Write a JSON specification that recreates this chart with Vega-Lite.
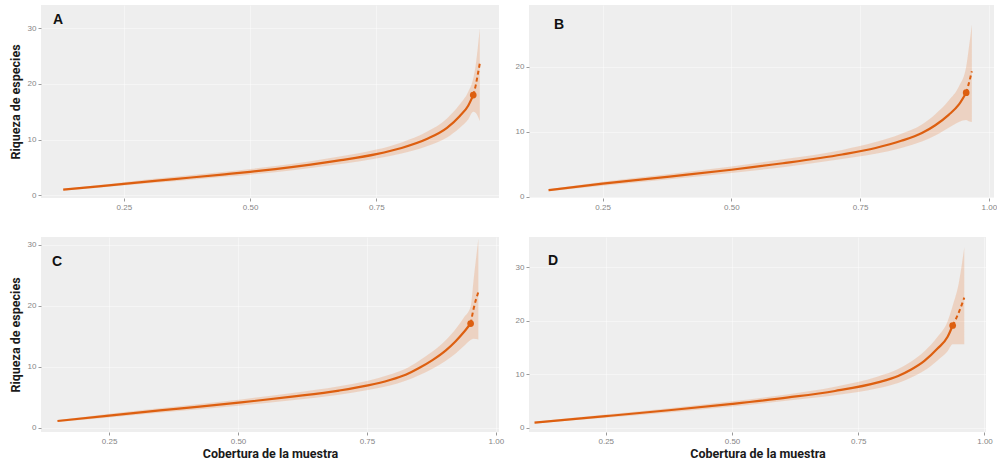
{
  "$schema": "https://vega.github.io/schema/vega-lite/v6.json",
  "background": "white",
  "padding": {"left": 9, "top": 5, "right": 0, "bottom": 0},
  "config": {
    "view": {"fill": "#eeeeee", "stroke": null},
    "axis": {"domain": false, "grid": true, "gridColor": "#ffffff", "gridWidth": 1, "gridOpacity": 0.4, "labelFont": "Liberation Sans", "labelFontSize": 8, "labelColor": "#858585", "tickColor": "#9a9a9a", "tickSize": 3, "labelPadding": 2, "titleFont": "Roboto", "titleFontSize": 12.5, "titleFontWeight": "bold", "titleColor": "#1a1a1a"},
    "title": {"font": "Liberation Sans", "fontSize": 14, "fontWeight": "bold", "color": "#111111", "anchor": "start", "frame": "group"}
  },
  "data": {"values": [
    {"panel": "A", "tipo": "rarefaccion", "cobertura": 0.13, "riqueza": 1.0, "inf": 0.85, "sup": 1.15},
    {"panel": "A", "tipo": "rarefaccion", "cobertura": 0.20, "riqueza": 1.6, "inf": 1.35, "sup": 1.85},
    {"panel": "A", "tipo": "rarefaccion", "cobertura": 0.25, "riqueza": 2.05, "inf": 1.75, "sup": 2.35},
    {"panel": "A", "tipo": "rarefaccion", "cobertura": 0.35, "riqueza": 2.9, "inf": 2.5, "sup": 3.3},
    {"panel": "A", "tipo": "rarefaccion", "cobertura": 0.45, "riqueza": 3.75, "inf": 3.3, "sup": 4.2},
    {"panel": "A", "tipo": "rarefaccion", "cobertura": 0.50, "riqueza": 4.2, "inf": 3.7, "sup": 4.7},
    {"panel": "A", "tipo": "rarefaccion", "cobertura": 0.55, "riqueza": 4.7, "inf": 4.15, "sup": 5.25},
    {"panel": "A", "tipo": "rarefaccion", "cobertura": 0.62, "riqueza": 5.5, "inf": 4.9, "sup": 6.1},
    {"panel": "A", "tipo": "rarefaccion", "cobertura": 0.68, "riqueza": 6.3, "inf": 5.6, "sup": 7.0},
    {"panel": "A", "tipo": "rarefaccion", "cobertura": 0.75, "riqueza": 7.4, "inf": 6.6, "sup": 8.2},
    {"panel": "A", "tipo": "rarefaccion", "cobertura": 0.80, "riqueza": 8.5, "inf": 7.5, "sup": 9.5},
    {"panel": "A", "tipo": "rarefaccion", "cobertura": 0.85, "riqueza": 10.1, "inf": 8.8, "sup": 11.4},
    {"panel": "A", "tipo": "rarefaccion", "cobertura": 0.89, "riqueza": 12.1, "inf": 10.4, "sup": 13.8},
    {"panel": "A", "tipo": "rarefaccion", "cobertura": 0.915, "riqueza": 14.2, "inf": 12.1, "sup": 16.3},
    {"panel": "A", "tipo": "rarefaccion", "cobertura": 0.932, "riqueza": 16.1, "inf": 13.6, "sup": 18.6},
    {"panel": "A", "tipo": "rarefaccion", "cobertura": 0.942, "riqueza": 18.0, "inf": 15.0, "sup": 21.0},
    {"panel": "A", "tipo": "extrapolacion", "cobertura": 0.942, "riqueza": 18.0, "inf": 15.0, "sup": 21.0},
    {"panel": "A", "tipo": "extrapolacion", "cobertura": 0.947, "riqueza": 19.8, "inf": 14.8, "sup": 23.5},
    {"panel": "A", "tipo": "extrapolacion", "cobertura": 0.951, "riqueza": 21.7, "inf": 14.2, "sup": 26.5},
    {"panel": "A", "tipo": "extrapolacion", "cobertura": 0.955, "riqueza": 23.7, "inf": 13.3, "sup": 30.0},
    {"panel": "A", "tipo": "observado", "cobertura": 0.942, "riqueza": 18.0, "inf": 15.0, "sup": 21.0},

    {"panel": "B", "tipo": "rarefaccion", "cobertura": 0.145, "riqueza": 1.0, "inf": 0.85, "sup": 1.15},
    {"panel": "B", "tipo": "rarefaccion", "cobertura": 0.25, "riqueza": 2.0, "inf": 1.7, "sup": 2.3},
    {"panel": "B", "tipo": "rarefaccion", "cobertura": 0.38, "riqueza": 3.1, "inf": 2.7, "sup": 3.5},
    {"panel": "B", "tipo": "rarefaccion", "cobertura": 0.50, "riqueza": 4.15, "inf": 3.65, "sup": 4.65},
    {"panel": "B", "tipo": "rarefaccion", "cobertura": 0.60, "riqueza": 5.15, "inf": 4.55, "sup": 5.75},
    {"panel": "B", "tipo": "rarefaccion", "cobertura": 0.715, "riqueza": 6.5, "inf": 5.8, "sup": 7.2},
    {"panel": "B", "tipo": "rarefaccion", "cobertura": 0.78, "riqueza": 7.5, "inf": 6.6, "sup": 8.4},
    {"panel": "B", "tipo": "rarefaccion", "cobertura": 0.83, "riqueza": 8.6, "inf": 7.5, "sup": 9.7},
    {"panel": "B", "tipo": "rarefaccion", "cobertura": 0.87, "riqueza": 9.8, "inf": 8.5, "sup": 11.1},
    {"panel": "B", "tipo": "rarefaccion", "cobertura": 0.896, "riqueza": 11.0, "inf": 9.4, "sup": 12.7},
    {"panel": "B", "tipo": "rarefaccion", "cobertura": 0.922, "riqueza": 12.6, "inf": 10.6, "sup": 14.8},
    {"panel": "B", "tipo": "rarefaccion", "cobertura": 0.942, "riqueza": 14.2, "inf": 11.5, "sup": 17.0},
    {"panel": "B", "tipo": "rarefaccion", "cobertura": 0.956, "riqueza": 16.0, "inf": 11.8, "sup": 20.0},
    {"panel": "B", "tipo": "extrapolacion", "cobertura": 0.956, "riqueza": 16.0, "inf": 11.8, "sup": 20.0},
    {"panel": "B", "tipo": "extrapolacion", "cobertura": 0.961, "riqueza": 17.4, "inf": 11.6, "sup": 22.8},
    {"panel": "B", "tipo": "extrapolacion", "cobertura": 0.967, "riqueza": 19.3, "inf": 11.5, "sup": 26.5},
    {"panel": "B", "tipo": "observado", "cobertura": 0.956, "riqueza": 16.0, "inf": 11.8, "sup": 20.0},

    {"panel": "C", "tipo": "rarefaccion", "cobertura": 0.15, "riqueza": 1.1, "inf": 0.95, "sup": 1.25},
    {"panel": "C", "tipo": "rarefaccion", "cobertura": 0.25, "riqueza": 2.0, "inf": 1.7, "sup": 2.3},
    {"panel": "C", "tipo": "rarefaccion", "cobertura": 0.38, "riqueza": 3.1, "inf": 2.7, "sup": 3.5},
    {"panel": "C", "tipo": "rarefaccion", "cobertura": 0.506, "riqueza": 4.15, "inf": 3.65, "sup": 4.65},
    {"panel": "C", "tipo": "rarefaccion", "cobertura": 0.605, "riqueza": 5.1, "inf": 4.5, "sup": 5.7},
    {"panel": "C", "tipo": "rarefaccion", "cobertura": 0.696, "riqueza": 6.1, "inf": 5.4, "sup": 6.8},
    {"panel": "C", "tipo": "rarefaccion", "cobertura": 0.752, "riqueza": 6.95, "inf": 6.2, "sup": 7.7},
    {"panel": "C", "tipo": "rarefaccion", "cobertura": 0.793, "riqueza": 7.8, "inf": 6.9, "sup": 8.7},
    {"panel": "C", "tipo": "rarefaccion", "cobertura": 0.825, "riqueza": 8.7, "inf": 7.7, "sup": 9.7},
    {"panel": "C", "tipo": "rarefaccion", "cobertura": 0.851, "riqueza": 9.8, "inf": 8.6, "sup": 11.0},
    {"panel": "C", "tipo": "rarefaccion", "cobertura": 0.877, "riqueza": 11.1, "inf": 9.7, "sup": 12.5},
    {"panel": "C", "tipo": "rarefaccion", "cobertura": 0.903, "riqueza": 12.7, "inf": 11.0, "sup": 14.4},
    {"panel": "C", "tipo": "rarefaccion", "cobertura": 0.922, "riqueza": 14.2, "inf": 12.2, "sup": 16.2},
    {"panel": "C", "tipo": "rarefaccion", "cobertura": 0.938, "riqueza": 15.7, "inf": 13.4, "sup": 18.1},
    {"panel": "C", "tipo": "rarefaccion", "cobertura": 0.951, "riqueza": 17.1, "inf": 14.4, "sup": 19.9},
    {"panel": "C", "tipo": "extrapolacion", "cobertura": 0.951, "riqueza": 17.1, "inf": 14.4, "sup": 19.9},
    {"panel": "C", "tipo": "extrapolacion", "cobertura": 0.957, "riqueza": 19.6, "inf": 14.6, "sup": 24.5},
    {"panel": "C", "tipo": "extrapolacion", "cobertura": 0.966, "riqueza": 22.3, "inf": 14.5, "sup": 31.0},
    {"panel": "C", "tipo": "observado", "cobertura": 0.951, "riqueza": 17.1, "inf": 14.4, "sup": 19.9},

    {"panel": "D", "tipo": "rarefaccion", "cobertura": 0.109, "riqueza": 1.0, "inf": 0.85, "sup": 1.15},
    {"panel": "D", "tipo": "rarefaccion", "cobertura": 0.25, "riqueza": 2.2, "inf": 1.9, "sup": 2.5},
    {"panel": "D", "tipo": "rarefaccion", "cobertura": 0.375, "riqueza": 3.3, "inf": 2.9, "sup": 3.7},
    {"panel": "D", "tipo": "rarefaccion", "cobertura": 0.501, "riqueza": 4.5, "inf": 4.0, "sup": 5.0},
    {"panel": "D", "tipo": "rarefaccion", "cobertura": 0.612, "riqueza": 5.7, "inf": 5.1, "sup": 6.3},
    {"panel": "D", "tipo": "rarefaccion", "cobertura": 0.704, "riqueza": 6.9, "inf": 6.1, "sup": 7.7},
    {"panel": "D", "tipo": "rarefaccion", "cobertura": 0.789, "riqueza": 8.5, "inf": 7.4, "sup": 9.6},
    {"panel": "D", "tipo": "rarefaccion", "cobertura": 0.829, "riqueza": 9.7, "inf": 8.4, "sup": 11.0},
    {"panel": "D", "tipo": "rarefaccion", "cobertura": 0.855, "riqueza": 10.9, "inf": 9.4, "sup": 12.4},
    {"panel": "D", "tipo": "rarefaccion", "cobertura": 0.881, "riqueza": 12.5, "inf": 10.7, "sup": 14.3},
    {"panel": "D", "tipo": "rarefaccion", "cobertura": 0.907, "riqueza": 14.8, "inf": 12.6, "sup": 17.0},
    {"panel": "D", "tipo": "rarefaccion", "cobertura": 0.927, "riqueza": 17.0, "inf": 14.3, "sup": 19.9},
    {"panel": "D", "tipo": "rarefaccion", "cobertura": 0.937, "riqueza": 19.1, "inf": 15.6, "sup": 22.8},
    {"panel": "D", "tipo": "extrapolacion", "cobertura": 0.937, "riqueza": 19.1, "inf": 15.6, "sup": 22.8},
    {"panel": "D", "tipo": "extrapolacion", "cobertura": 0.949, "riqueza": 21.5, "inf": 15.6, "sup": 27.0},
    {"panel": "D", "tipo": "extrapolacion", "cobertura": 0.96, "riqueza": 24.3, "inf": 15.6, "sup": 33.7},
    {"panel": "D", "tipo": "observado", "cobertura": 0.937, "riqueza": 19.1, "inf": 15.6, "sup": 22.8}
  ]},
  "columns": 2,
  "spacing": {"row": 39, "column": 30},
  "bounds": "flush",
  "concat": [
    {
      "width": 458, "height": 193,
      "title": {"text": "A", "offset": -22, "dx": 12},
      "transform": [{"filter": "datum.panel === 'A'"}],
      "encoding": {
        "x": {"field": "cobertura", "type": "quantitative", "scale": {"domain": [0.086, 0.993], "nice": false, "zero": false}, "axis": {"title": null, "values": [0.25, 0.5, 0.75], "format": ".2f"}},
        "y": {"field": "riqueza", "type": "quantitative", "scale": {"domain": [-0.5, 34.2], "nice": false, "zero": false}, "axis": {"title": "Riqueza de especies", "values": [0, 10, 20, 30], "titlePadding": 5}}
      },
      "layer": [
        {"transform": [{"filter": "datum.tipo !== 'observado'"}], "mark": {"type": "area", "color": "#E8702A", "opacity": 0.22, "interpolate": "monotone"}, "encoding": {"y": {"field": "inf", "type": "quantitative", "axis": {"title": "Riqueza de especies", "values": [0, 10, 20, 30], "titlePadding": 5}}, "y2": {"field": "sup"}}},
        {"transform": [{"filter": "datum.tipo === 'rarefaccion'"}], "mark": {"type": "line", "color": "#DD5F10", "strokeWidth": 2.2, "interpolate": "monotone"}},
        {"transform": [{"filter": "datum.tipo === 'extrapolacion'"}], "mark": {"type": "line", "color": "#DD5F10", "strokeWidth": 2, "strokeDash": [4, 3], "interpolate": "monotone"}},
        {"transform": [{"filter": "datum.tipo === 'observado'"}], "mark": {"type": "point", "filled": true, "color": "#DD5F10", "size": 45, "opacity": 1}}
      ]
    },
    {
      "width": 465, "height": 193,
      "title": {"text": "B", "offset": -27, "dx": 25},
      "transform": [{"filter": "datum.panel === 'B'"}],
      "encoding": {
        "x": {"field": "cobertura", "type": "quantitative", "scale": {"domain": [0.107, 1.01], "nice": false, "zero": false}, "axis": {"title": null, "values": [0.25, 0.5, 0.75, 1.0], "format": ".2f"}},
        "y": {"field": "riqueza", "type": "quantitative", "scale": {"domain": [-0.2, 29.5], "nice": false, "zero": false}, "axis": {"title": null, "values": [0, 10, 20]}}
      },
      "layer": [
        {"transform": [{"filter": "datum.tipo !== 'observado'"}], "mark": {"type": "area", "color": "#E8702A", "opacity": 0.22, "interpolate": "monotone"}, "encoding": {"y": {"field": "inf", "type": "quantitative", "axis": {"title": null, "values": [0, 10, 20]}}, "y2": {"field": "sup"}}},
        {"transform": [{"filter": "datum.tipo === 'rarefaccion'"}], "mark": {"type": "line", "color": "#DD5F10", "strokeWidth": 2.2, "interpolate": "monotone"}},
        {"transform": [{"filter": "datum.tipo === 'extrapolacion'"}], "mark": {"type": "line", "color": "#DD5F10", "strokeWidth": 2, "strokeDash": [4, 3], "interpolate": "monotone"}},
        {"transform": [{"filter": "datum.tipo === 'observado'"}], "mark": {"type": "point", "filled": true, "color": "#DD5F10", "size": 45, "opacity": 1}}
      ]
    },
    {
      "width": 458, "height": 195,
      "title": {"text": "C", "offset": -32, "dx": 11},
      "transform": [{"filter": "datum.panel === 'C'"}],
      "encoding": {
        "x": {"field": "cobertura", "type": "quantitative", "scale": {"domain": [0.118, 1.006], "nice": false, "zero": false}, "axis": {"title": "Cobertura de la muestra", "values": [0.25, 0.5, 0.75, 1.0], "format": ".2f", "titlePadding": 2}},
        "y": {"field": "riqueza", "type": "quantitative", "scale": {"domain": [-0.7, 31.3], "nice": false, "zero": false}, "axis": {"title": "Riqueza de especies", "values": [0, 10, 20, 30], "titlePadding": 5}}
      },
      "layer": [
        {"transform": [{"filter": "datum.tipo !== 'observado'"}], "mark": {"type": "area", "color": "#E8702A", "opacity": 0.22, "interpolate": "monotone"}, "encoding": {"y": {"field": "inf", "type": "quantitative", "axis": {"title": "Riqueza de especies", "values": [0, 10, 20, 30], "titlePadding": 5}}, "y2": {"field": "sup"}}},
        {"transform": [{"filter": "datum.tipo === 'rarefaccion'"}], "mark": {"type": "line", "color": "#DD5F10", "strokeWidth": 2.2, "interpolate": "monotone"}},
        {"transform": [{"filter": "datum.tipo === 'extrapolacion'"}], "mark": {"type": "line", "color": "#DD5F10", "strokeWidth": 2, "strokeDash": [4, 3], "interpolate": "monotone"}},
        {"transform": [{"filter": "datum.tipo === 'observado'"}], "mark": {"type": "point", "filled": true, "color": "#DD5F10", "size": 45, "opacity": 1}}
      ]
    },
    {
      "width": 457, "height": 195,
      "title": {"text": "D", "offset": -31, "dx": 19},
      "transform": [{"filter": "datum.panel === 'D'"}],
      "encoding": {
        "x": {"field": "cobertura", "type": "quantitative", "scale": {"domain": [0.098, 1.003], "nice": false, "zero": false}, "axis": {"title": "Cobertura de la muestra", "values": [0.25, 0.5, 0.75, 1.0], "format": ".2f", "titlePadding": 2}},
        "y": {"field": "riqueza", "type": "quantitative", "scale": {"domain": [-0.75, 35.6], "nice": false, "zero": false}, "axis": {"title": null, "values": [0, 10, 20, 30]}}
      },
      "layer": [
        {"transform": [{"filter": "datum.tipo !== 'observado'"}], "mark": {"type": "area", "color": "#E8702A", "opacity": 0.22, "interpolate": "monotone"}, "encoding": {"y": {"field": "inf", "type": "quantitative", "axis": {"title": null, "values": [0, 10, 20, 30]}}, "y2": {"field": "sup"}}},
        {"transform": [{"filter": "datum.tipo === 'rarefaccion'"}], "mark": {"type": "line", "color": "#DD5F10", "strokeWidth": 2.2, "interpolate": "monotone"}},
        {"transform": [{"filter": "datum.tipo === 'extrapolacion'"}], "mark": {"type": "line", "color": "#DD5F10", "strokeWidth": 2, "strokeDash": [4, 3], "interpolate": "monotone"}},
        {"transform": [{"filter": "datum.tipo === 'observado'"}], "mark": {"type": "point", "filled": true, "color": "#DD5F10", "size": 45, "opacity": 1}}
      ]
    }
  ]
}
